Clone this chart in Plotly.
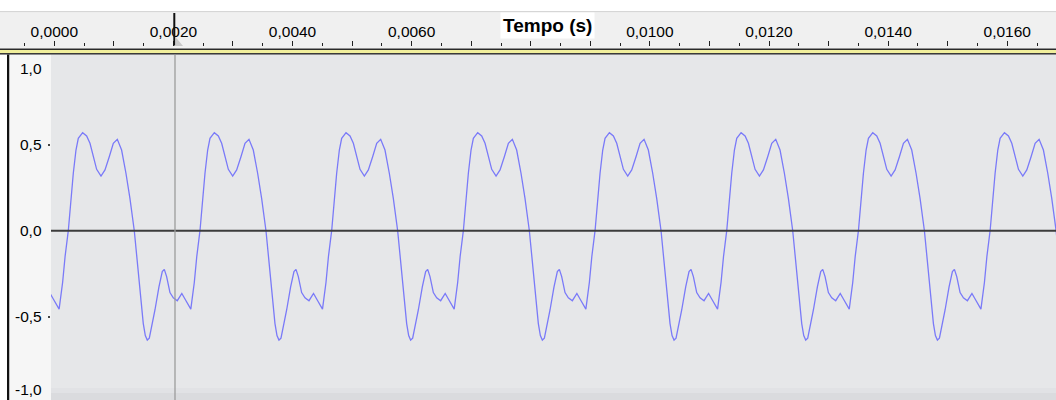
import numpy as np
import plotly.graph_objects as go

W, H = 1056, 400

# One cycle of the waveform, starting at an upward zero crossing.
cycle_offset_us = [0, 39, 84, 129, 168, 241, 308, 364, 420, 476, 549, 616, 688, 756, 823, 895, 968, 1035,
                   1108, 1159, 1203, 1259, 1293, 1326, 1360, 1388, 1455, 1522, 1578, 1612, 1651, 1707,
                   1763, 1830, 1906, 1964, 2057, 2116, 2157]
cycle_amp = [0.0, 0.159, 0.334, 0.469, 0.537, 0.570, 0.551, 0.508, 0.430, 0.357, 0.318, 0.353, 0.430,
             0.508, 0.531, 0.469, 0.334, 0.188,
             0.0, -0.170, -0.330, -0.540, -0.610, -0.636, -0.625, -0.580, -0.461, -0.326, -0.238,
             -0.225, -0.267, -0.360, -0.390, -0.407, -0.365, -0.400, -0.456, -0.300, -0.150]
period_s = 0.002211
first_upcross_s = 0.000235
n_cycles = 9

# Ruler ticks (seconds) and their labels
tick_vals = [i * 0.001 for i in range(0, 17)]
tick_text = ["0,0000", "", "0,0020", "", "0,0040", "", "0,0060", "", "", "", "0,0100", "",
             "0,0120", "", "0,0140", "", "0,0160"]

# Amplitude scale labels
amp_vals = [1.0, 0.5, 0.0, -0.5, -1.0]
amp_text = ["1,0", "0,5", "0,0", "-0,5", "-1,0"]

# Repeat the cycle over the visible stretch of the signal
t = []
a = []
for k in range(-1, n_cycles - 1):
    base = first_upcross_s + k * period_s
    t.extend(base + np.array(cycle_offset_us) * 1e-6)
    a.extend(cycle_amp)

PX_PER_S = 59560.0
X0_PX = 54.3          # pixel column of t = 0
TRACK_LEFT = 51.0
TRACK_TOP = 55.5
ZERO_PX = 230.7
PX_PER_UNIT = 172.0


def t_at(px):
    return (px - X0_PX) / PX_PER_S


def px_x(x):
    return x / W


def px_y(y):
    return 1 - y / H


def amp_px(v):
    return ZERO_PX - v * PX_PER_UNIT


FONT = "Liberation Sans, Arial, sans-serif"

fig = go.Figure()
fig.add_trace(go.Scatter(x=t, y=a, mode="lines", line=dict(color="#7a7af8", width=1.3),
                         hoverinfo="skip", showlegend=False))
# carrier trace for the ruler axis
fig.add_trace(go.Scatter(x=[0.0], y=[None], xaxis="x2", yaxis="y", mode="lines",
                         hoverinfo="skip", showlegend=False))

shapes = []


def rect(x0, y0, x1, y1, color):
    shapes.append(dict(type="rect", xref="paper", yref="paper", x0=px_x(x0), x1=px_x(x1),
                       y0=px_y(y1), y1=px_y(y0), fillcolor=color, line=dict(width=0), layer="below"))


# ruler band
rect(0, 11, W, 12.5, "#d6d6d6")
rect(0, 12.5, W, 48.5, "#f0f0f0")
rect(0, 48.5, W, 50, "#2a2a2a")
rect(0, 50, W, 53, "#f1ef9c")
rect(0, 53, W, 54.8, "#3a3a3a")
# left scale panel and its border
rect(0, 54.8, 7, H, "#ffffff")
rect(7, 54.8, 9.5, H, "#111111")
rect(9.5, 54.8, TRACK_LEFT, H, "#f6f6f6")
# track background, slightly darker towards the bottom edge
rect(TRACK_LEFT, 54.8, W, H, "#e6e7e9")
rect(TRACK_LEFT, 388, W, 393, "#e1e2e5")
rect(TRACK_LEFT, 393, W, H, "#dadbde")

# zero line
shapes.append(dict(type="line", xref="x domain", yref="y", x0=0, x1=1, y0=0, y1=0,
                   line=dict(color="#3c3c3c", width=2), layer="above"))
# play cursor
shapes.append(dict(type="line", xref="paper", yref="paper", x0=px_x(175), x1=px_x(175),
                   y0=0, y1=px_y(54.8), line=dict(color="#9c9c9c", width=1.3), layer="above"))
shapes.append(dict(type="line", xref="paper", yref="paper", x0=px_x(174.3), x1=px_x(174.3),
                   y0=px_y(45.5), y1=px_y(13), line=dict(color="#111111", width=2), layer="above"))
shapes.append(dict(type="path", xref="paper", yref="paper",
                   path=f"M {px_x(175.5)} {px_y(37)} L {px_x(183)} {px_y(46)} L {px_x(175.5)} {px_y(46)} Z",
                   fillcolor="#c8c8c8", line=dict(width=0), layer="above"))

annotations = []
for v, s in zip(amp_vals, amp_text):
    # end labels sit just inside the track
    shift = -10 if v == 1.0 else (13 if v == -1.0 else 0)
    annotations.append(dict(x=px_x(44), y=px_y(amp_px(v)), xref="paper", yref="paper", text=s,
                            showarrow=False, xanchor="right", yanchor="middle", yshift=shift,
                            font=dict(family=FONT, size=15.5, color="#000000")))
annotations.append(dict(x=px_x(547.5), y=px_y(26), xref="paper", yref="paper", text="<b>Tempo (s)</b>",
                        showarrow=False, xanchor="center", yanchor="middle", bgcolor="#ffffff",
                        borderpad=2, font=dict(family=FONT, size=19, color="#000000")))

fig.update_layout(
    width=W, height=H,
    margin=dict(l=0, r=0, t=0, b=0),
    paper_bgcolor="#ffffff",
    plot_bgcolor="rgba(0,0,0,0)",
    showlegend=False,
    shapes=shapes,
    annotations=annotations,
    xaxis=dict(domain=[px_x(TRACK_LEFT), 1], range=[t_at(TRACK_LEFT), t_at(W)],
               visible=False, showgrid=False, zeroline=False),
    yaxis=dict(domain=[0, px_y(TRACK_TOP)],
               range=[(ZERO_PX - H) / PX_PER_UNIT, (ZERO_PX - TRACK_TOP) / PX_PER_UNIT],
               showgrid=False, zeroline=False, showline=False, showticklabels=False,
               tickmode="array", tickvals=[0.5, -0.5], ticks="outside", ticklen=2,
               tickcolor="#444444", tickwidth=1.5),
    xaxis2=dict(domain=[0, 1], range=[t_at(0), t_at(W)], anchor="free", position=px_y(45.5),
                side="top", showgrid=False, zeroline=False, showline=False,
                tickmode="array", tickvals=tick_vals, ticktext=tick_text,
                ticks="outside", ticklen=5, tickwidth=1, tickcolor="#222222",
                ticklabelstandoff=-3,
                minor=dict(dtick=0.0005, tick0=0, ticks="outside", ticklen=3, tickwidth=1,
                           tickcolor="#222222", showgrid=False),
                tickfont=dict(family=FONT, size=15.5, color="#000000")),
)

fig.write_html("out.html")
